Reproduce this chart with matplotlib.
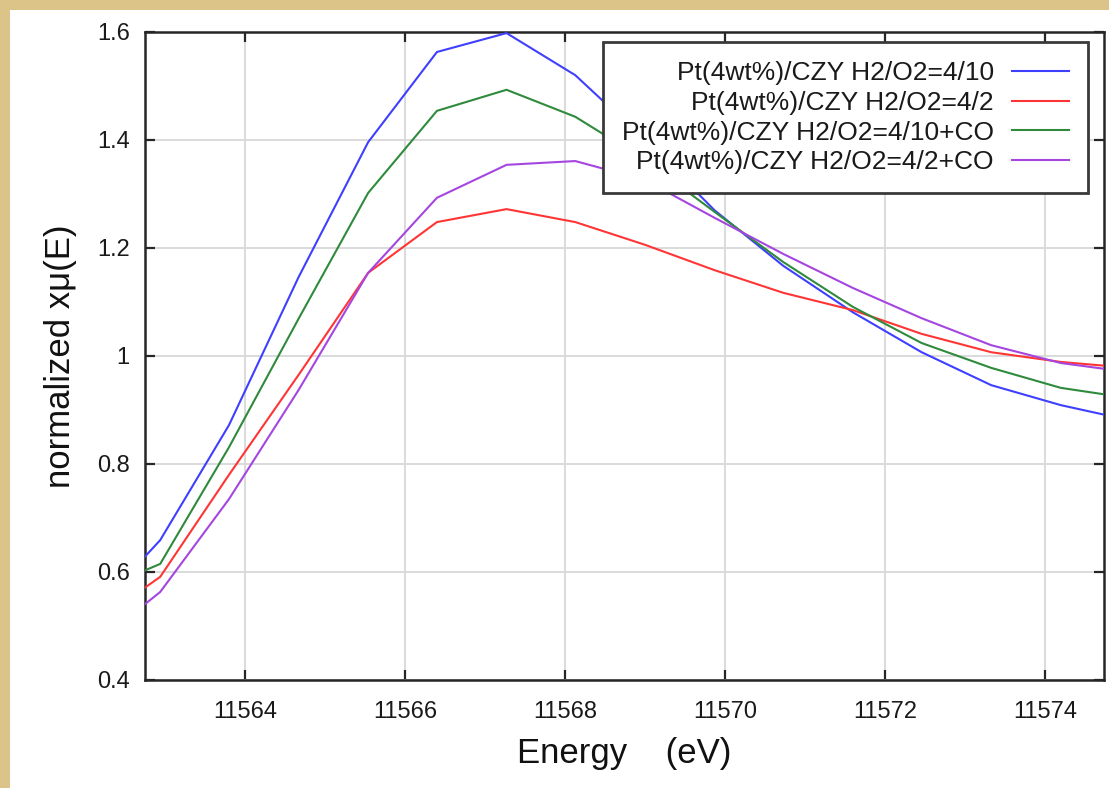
import matplotlib
matplotlib.use("Agg")
import matplotlib.pyplot as plt
from matplotlib.patches import Rectangle
from matplotlib.ticker import FuncFormatter

plt.rcParams['font.family'] = ['Liberation Sans', 'DejaVu Sans']

# ---- data ----
energy = [11562.07, 11562.94, 11563.80, 11564.67, 11565.54, 11566.40, 11567.27,
          11568.13, 11569.00, 11569.87, 11570.73, 11571.60, 11572.46, 11573.33,
          11574.20, 11575.06]
s_410 = [0.52, 0.659, 0.872, 1.146, 1.396, 1.563, 1.598, 1.520, 1.400, 1.270,
         1.167, 1.081, 1.007, 0.946, 0.909, 0.881]
s_42 = [0.50, 0.591, 0.780, 0.965, 1.154, 1.248, 1.272, 1.248, 1.206, 1.159,
        1.117, 1.085, 1.041, 1.007, 0.989, 0.978]
s_410co = [0.56, 0.615, 0.831, 1.069, 1.302, 1.454, 1.493, 1.443, 1.363, 1.267,
           1.174, 1.091, 1.024, 0.978, 0.941, 0.922]
s_42co = [0.46, 0.563, 0.735, 0.937, 1.154, 1.293, 1.354, 1.361, 1.326, 1.256,
          1.189, 1.126, 1.070, 1.020, 0.987, 0.970]
labels = ["Pt(4wt%)/CZY H2/O2=4/10",
          "Pt(4wt%)/CZY H2/O2=4/2",
          "Pt(4wt%)/CZY H2/O2=4/10+CO",
          "Pt(4wt%)/CZY H2/O2=4/2+CO"]
colors = ["#3f3fff", "#ff3535", "#2f8a3c", "#a546e0"]
xticks = [11564, 11566, 11568, 11570, 11572, 11574]
yticks = [0.4, 0.6, 0.8, 1.0, 1.2, 1.4, 1.6]

W, H = 1109, 788
fig = plt.figure(figsize=(W / 100, H / 100), dpi=100)
fig.patch.set_facecolor("#dcc388")
fig.patches.append(Rectangle((10 / W, 0), 1 - 10 / W, 1 - 10 / H,
                             transform=fig.transFigure, facecolor="white",
                             edgecolor="none", zorder=-10))

ax = fig.add_axes([145 / W, 1 - 680 / H, (1104 - 145) / W, (680 - 32) / H])
ax.set_zorder(5)
ax.set_facecolor("white")

for ys, lab, c in zip([s_410, s_42, s_410co, s_42co], labels, colors):
    ax.plot(energy, ys, color=c, lw=1.5, label=lab, zorder=3)

ax.set_xlim(11562.75, 11574.74)
ax.set_ylim(0.4, 1.6)
ax.set_xticks(xticks)
ax.set_yticks(yticks)
ax.yaxis.set_major_formatter(FuncFormatter(lambda v, p: f"{v:g}"))
ax.xaxis.set_major_formatter(FuncFormatter(lambda v, p: f"{v:.0f}"))
ax.grid(True, color="#dadada", lw=1.4, zorder=1)
ax.set_axisbelow(True)

for sp in ax.spines.values():
    sp.set_linewidth(1.8)
    sp.set_color("#262626")

ax.tick_params(axis="both", which="major", direction="in", length=7,
               width=1.6, color="#262626", top=True, right=True,
               labelsize=17, labelcolor="#1a1a1a")
ax.tick_params(axis="x", pad=15)
ax.tick_params(axis="y", pad=11)

ax.set_xlabel("Energy    (eV)", fontsize=25, color="#111111", labelpad=10)
ax.set_ylabel("normalized xμ(E)", fontsize=25, color="#111111", labelpad=14)

leg = ax.legend(loc="upper right", bbox_to_anchor=((1088 - 145) / 959, 1 - 10 / 648),
                borderaxespad=0, markerfirst=False, fontsize=19, frameon=True,
                fancybox=False, framealpha=1, edgecolor="#3a3a3a",
                handlelength=2.15, handletextpad=0.7, labelspacing=0.22,
                borderpad=0.72)
leg.get_frame().set_linewidth(2)
for t in leg.get_texts():
    t.set_color("#1a1a1a")

fig.savefig("out.png", dpi=100, facecolor=fig.get_facecolor())
